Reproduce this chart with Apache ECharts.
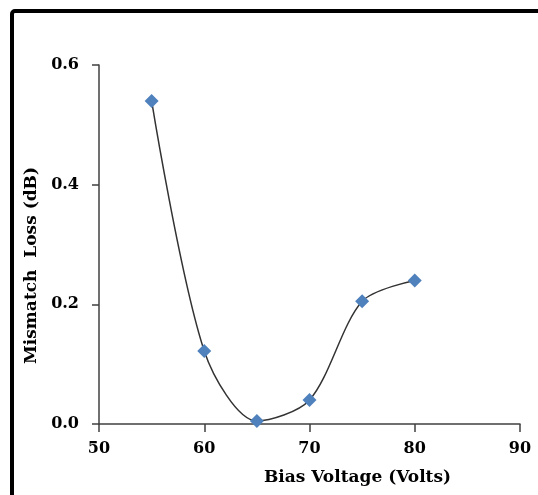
<!DOCTYPE html>
<html>
<head>
<meta charset="utf-8">
<script src="https://cdn.jsdelivr.net/npm/echarts@6/dist/echarts.min.js"></script>
<style>
html,body{margin:0;padding:0;background:#fff;}
#chart{width:538px;height:495px;}
</style>
</head>
<body>
<div id="chart"></div>
<script>
const voltages = [55, 60, 65, 70, 75, 80];
const mismatchLoss = [0.54, 0.122, 0.005, 0.04, 0.205, 0.24];
const xTicks = [50, 60, 70, 80, 90];
const yTicks = [0.0, 0.2, 0.4, 0.6];

const FONT = 'DejaVu Serif';
const chart = echarts.init(document.getElementById('chart'), null, {renderer: 'canvas'});
chart.setOption({
  backgroundColor: '#ffffff',
  animation: false,
  grid: {left: 99, right: 18, top: 65, bottom: 71},
  graphic: [{
    type: 'rect',
    shape: {x: 12, y: 11, width: 560, height: 520, r: 3},
    style: {fill: 'none', stroke: '#000', lineWidth: 4},
    silent: true, z: 100
  }],
  xAxis: {
    type: 'value',
    min: xTicks[0], max: xTicks[xTicks.length - 1], interval: 10,
    name: 'Bias Voltage (Volts)',
    nameLocation: 'middle', nameGap: 45,
    nameTextStyle: {fontFamily: FONT, fontWeight: 'bold', fontSize: 17, color: '#000', padding: [0, 0, 0, 96]},
    axisLine: {show: true, onZero: false, lineStyle: {color: '#404040', width: 1.5}},
    axisTick: {show: true, inside: false, length: 8, lineStyle: {color: '#404040', width: 1.5}},
    axisLabel: {fontFamily: FONT, fontWeight: 'bold', fontSize: 16, color: '#000', margin: 17,
      formatter: v => String(v)},
    splitLine: {show: false}
  },
  yAxis: {
    type: 'value',
    min: yTicks[0], max: yTicks[yTicks.length - 1], interval: 0.2,
    name: 'Mismatch  Loss (dB)',
    nameLocation: 'middle', nameGap: 59,
    nameTextStyle: {fontFamily: FONT, fontWeight: 'bold', fontSize: 17, color: '#000', padding: [0, 42, 0, 0]},
    axisLine: {show: true, lineStyle: {color: '#404040', width: 1.5}},
    axisTick: {show: true, inside: false, length: 7, lineStyle: {color: '#404040', width: 1.5}},
    axisLabel: {fontFamily: FONT, fontWeight: 'bold', fontSize: 16, color: '#000', margin: 20,
      formatter: v => v.toFixed(1)},
    splitLine: {show: false}
  },
  series: [{
    type: 'line',
    data: voltages.map((v, i) => [v, mismatchLoss[i]]),
    smooth: 0.3,
    clip: true,
    symbol: 'diamond',
    symbolSize: 14,
    itemStyle: {color: '#4F81BD'},
    lineStyle: {color: '#333333', width: 1.5}
  }]
});
</script>
</body>
</html>
